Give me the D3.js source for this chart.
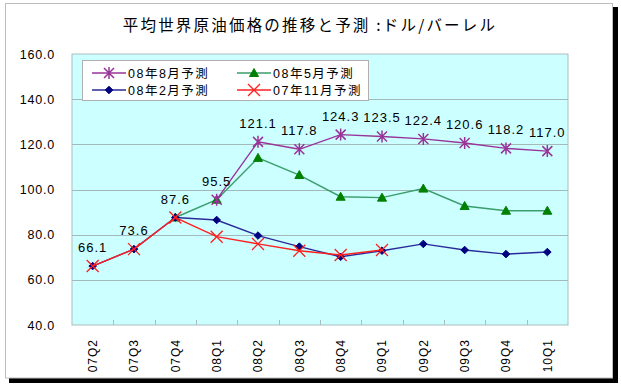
<!DOCTYPE html>
<html><head><meta charset="utf-8">
<script src="https://cdn.jsdelivr.net/npm/d3@7"></script>
<style>
body{margin:0;background:#fff;}
svg{display:block;}
text{font-family:"Liberation Sans","Noto Sans CJK JP",sans-serif;fill:#000;}
</style></head>
<body>
<svg id="c" width="621" height="386"></svg>
<script>
const title = "平均世界原油価格の推移と予測 :ドル/バーレル";
const categories = ["07Q2","07Q3","07Q4","08Q1","08Q2","08Q3","08Q4","09Q1","09Q2","09Q3","09Q4","10Q1"];
const seriesNames = ["08年8月予測","08年5月予測","08年2月予測","07年11月予測"];
const aug08 = [null,null,null,95.5,121.1,117.8,124.3,123.5,122.4,120.6,118.2,117.0];
const may08 = [null,null,87.6,95.5,114.0,106.4,96.8,96.4,100.4,92.7,90.6,90.6];
const feb08 = [66.1,73.6,87.6,86.5,79.6,74.7,70.2,72.9,75.9,73.2,71.4,72.3];
const nov07 = [66.1,73.6,87.6,79.1,75.9,72.9,71.0,73.2,null,null,null,null];
const labelValues = [66.1,73.6,87.6,95.5,121.1,117.8,124.3,123.5,122.4,120.6,118.2,117.0];
const yTicks = [40,60,80,100,120,140,160];

const svg = d3.select("#c");
// frame with shadow
svg.append("rect").attr("x",9).attr("y",7).attr("width",609).attr("height",376).attr("fill","#000");
svg.append("rect").attr("x",5.5).attr("y",3.5).attr("width",607).attr("height",374.5)
  .attr("fill","#fff").attr("stroke","#bdbdbd");

const L=72, R=568, T=54, B=325;
const x = d3.scaleBand().domain(categories).range([L,R]);
const y = d3.scaleLinear().domain([40,160]).range([B,T]);

svg.append("text").attr("x",310).attr("y",31).attr("text-anchor","middle")
  .style("font-family","'Noto Sans CJK JP',sans-serif").style("font-size","15.5px").style("letter-spacing","2.2px")
  .text(title);

// plot area
svg.append("rect").attr("x",L).attr("y",T).attr("width",R-L).attr("height",B-T)
  .attr("fill","#ccffff").attr("stroke","#a9bdbd");
svg.append("g").selectAll("line").data(yTicks.filter(v=>v>40&&v<160)).join("line")
  .attr("x1",L).attr("x2",R).attr("y1",d=>Math.round(y(d))+0.5).attr("y2",d=>Math.round(y(d))+0.5)
  .attr("stroke","#a3b8b8");

// y axis labels
const yAxis = d3.axisLeft(y).tickValues(yTicks).tickFormat(d3.format(".1f")).tickSize(0).tickPadding(17);
const ga = svg.append("g").attr("transform",`translate(${L},0)`).call(yAxis);
ga.select(".domain").remove();
ga.selectAll("text").style("font-size","12.5px").style("letter-spacing","0.8px")
  .style("font-family","'Liberation Sans',sans-serif").attr("fill","#000");

// x ticks (inside, at band boundaries)
svg.append("g").selectAll("line").data(categories.slice(1)).join("line")
  .attr("x1",d=>Math.round(x(d))+0.5).attr("x2",d=>Math.round(x(d))+0.5)
  .attr("y1",B).attr("y2",B-5).attr("stroke","#a9bdbd");
// x labels
const xAxis = d3.axisBottom(x).tickSize(0);
const gx = svg.append("g").attr("transform",`translate(0,${B})`).call(xAxis);
gx.select(".domain").remove();
gx.selectAll("text").attr("transform","rotate(-90)").attr("text-anchor","end")
  .attr("x",-14).attr("y",0).attr("dy","0.35em").attr("dx",0)
  .style("font-size","12px").style("letter-spacing","1px")
  .style("font-family","'Liberation Sans',sans-serif").attr("fill","#000");

const cx = d=>x(d)+x.bandwidth()/2;
function sym(type){ 
  if(type==="star") return "M-5,-5L5,5M-5,5L5,-5M0,-6L0,6";
  if(type==="tri") return "M0,-4.5L4.5,3.5L-4.5,3.5Z";
  if(type==="dia") return "M0,-3.8L3.8,0L0,3.8L-3.8,0Z";
  if(type==="x") return "M-6,-6L6,6M-6,6L6,-6";
}
const series = [
  {name:seriesNames[1], vals:may08, line:"#3a9e6a", mark:"#008000", type:"tri"},
  {name:seriesNames[2], vals:feb08, line:"#2a2a99", mark:"#000080", type:"dia"},
  {name:seriesNames[3], vals:nov07, line:"#ff2020", mark:"#ff2020", type:"x"},
  {name:seriesNames[0], vals:aug08, line:"#993399", mark:"#993399", type:"star"},
];
const line = d3.line().defined(d=>d.v!=null).x(d=>cx(d.c)).y(d=>y(d.v));
series.forEach(s=>{
  const pts = categories.map((c,i)=>({c, v:s.vals[i]}));
  svg.append("path").datum(pts).attr("d",line).attr("fill","none").attr("stroke",s.line).attr("stroke-width",1.4);
  svg.append("g").selectAll("path").data(pts.filter(p=>p.v!=null)).join("path")
    .attr("transform",p=>`translate(${cx(p.c)},${y(p.v)})`).attr("d",sym(s.type))
    .attr("fill",(s.type==="tri"||s.type==="dia")?s.mark:"none")
    .attr("stroke",s.mark).attr("stroke-width",s.type==="x"?1.3:(s.type==="star"?1.5:1));
});
// data labels
svg.append("g").selectAll("text").data(categories.map((c,i)=>({c,v:labelValues[i]}))).join("text")
  .attr("x",d=>cx(d.c)).attr("y",d=>y(d.v)-14).attr("text-anchor","middle")
  .style("font-size","13px").style("letter-spacing","1px")
  .text(d=>d3.format(".1f")(d.v));

// legend
const lg = svg.append("g");
lg.append("rect").attr("x",82.5).attr("y",60.5).attr("width",286).attr("height",40)
  .attr("fill","#fff").attr("stroke","#b0b0b0");
const legendItems = [
  {s:series[3], x:92, y:73},
  {s:series[0], x:237, y:73},
  {s:series[1], x:92, y:90},
  {s:series[2], x:237, y:90},
];
legendItems.forEach(it=>{
  lg.append("line").attr("x1",it.x).attr("x2",it.x+34).attr("y1",it.y).attr("y2",it.y)
    .attr("stroke",it.s.line).attr("stroke-width",1.4);
  lg.append("path").attr("transform",`translate(${it.x+17},${it.y})`).attr("d",sym(it.s.type))
    .attr("fill",(it.s.type==="tri"||it.s.type==="dia")?it.s.mark:"none")
    .attr("stroke",it.s.mark).attr("stroke-width",it.s.type==="x"?1.3:(it.s.type==="star"?1.5:1));
  lg.append("text").attr("x",it.x+36).attr("y",it.y).attr("dy","0.36em")
    .style("font-size","12.5px").style("letter-spacing","1.5px").text(it.s.name);
});
</script>
</body></html>
